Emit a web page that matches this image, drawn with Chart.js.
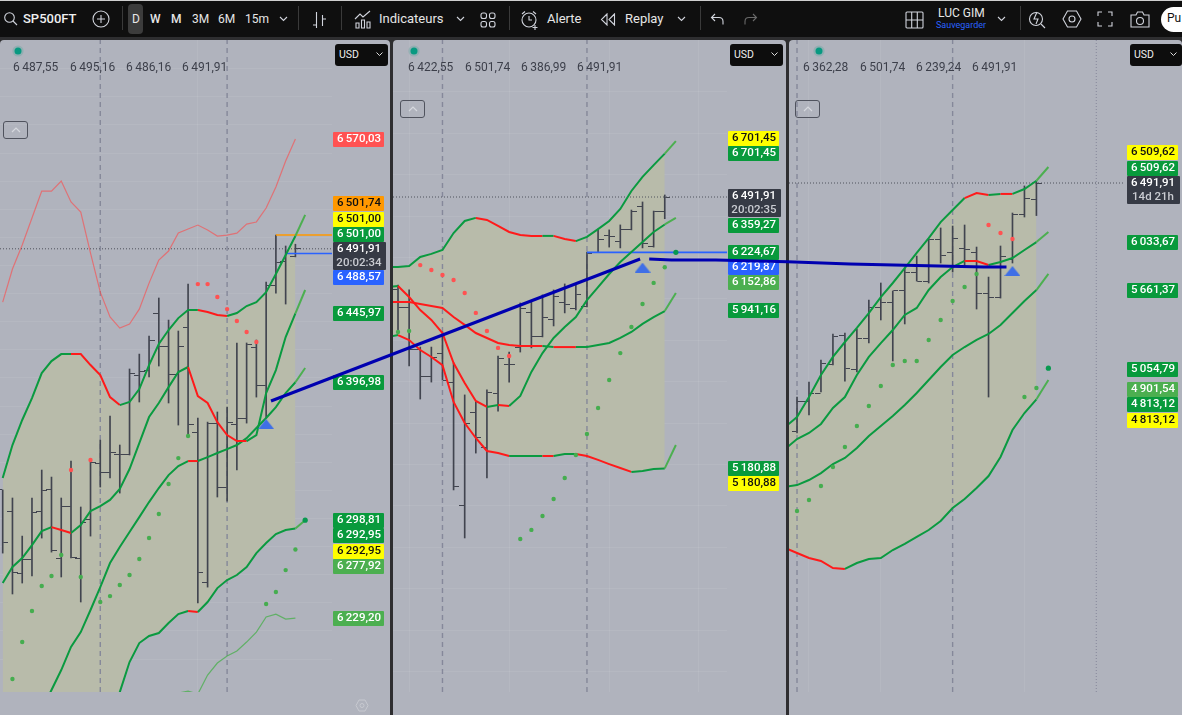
<!DOCTYPE html>
<html lang="fr"><head><meta charset="utf-8"><title>SP500FT</title>
<script src="https://cdn.jsdelivr.net/npm/chart.js@4/dist/chart.umd.min.js"></script>
<style>
html,body{margin:0;padding:0;width:1182px;height:715px;overflow:hidden;background:#2e2e30;font-family:Roboto,"Open Sans",sans-serif}
.abs{position:absolute}
#bar{left:0;top:0;width:1182px;height:37px;background:#0f0f0f;color:#e6e6e6;border-top:1px solid #cfcfcf;box-sizing:border-box}
#bar span{position:absolute;top:10px;font-size:13px;white-space:nowrap;line-height:16px}
#bar svg{position:absolute;fill:none;stroke:#d1d4dc;stroke-width:1.1}
#bar i{position:absolute;top:5px;width:1px;height:24px;background:#3a3a3a}
.panel{position:absolute;top:40px;height:675px;background:#b0b3bd;border-radius:4px 4px 0 0;overflow:hidden}
canvas{position:absolute;left:0;top:0}
.hv{position:absolute;top:60px;font-size:12px;color:#3c3f4a;white-space:nowrap;line-height:14px;z-index:3}
.dot{position:absolute;top:46px;width:10px;height:10px;border-radius:50%;background:#089981;box-shadow:0 0 0 3px rgba(8,153,129,.18);z-index:3;transform:scale(.7)}
.usd{position:absolute;top:44px;width:53px;height:22px;background:#0d0d0d;border-radius:3px;color:#eee;font-size:10.5px;line-height:21px;padding-left:4px;box-sizing:border-box;z-index:3}
.usd svg{position:absolute;right:5px;top:8px;fill:none;stroke:#ddd;stroke-width:1}
.up{position:absolute;width:25px;height:18px;border:1px solid #50535e;border-radius:3px;box-sizing:border-box;z-index:3}
.up svg{position:absolute;left:7px;top:5px;fill:none;stroke:#d6d8de;stroke-width:1.2}
</style></head><body>
<div id="bar" class="abs">
<svg style="left:3px;top:10px" width="15" height="15" viewBox="0 0 15 15"><circle cx="6.5" cy="6.5" r="4.8"/><path d="M10 10l4 4"/></svg>
<span style="left:23px;font-weight:500;color:#f0f0f0">SP500FT</span>
<svg style="left:92px;top:9px" width="18" height="18" viewBox="0 0 18 18"><circle cx="9" cy="9" r="8"/><path d="M9 5v8M5 9h8"/></svg>
<i style="left:122px"></i>
<div class="abs" style="left:128px;top:3px;width:15px;height:30px;background:#3c3c3c;border-radius:4px"></div>
<span style="left:132px;font-size:12px">D</span><span style="left:150px;font-size:12px;font-weight:500">W</span><span style="left:171px;font-size:12px;font-weight:500">M</span><span style="left:192px;font-size:12px">3M</span><span style="left:218px;font-size:12px">6M</span><span style="left:245px;font-size:12px">15m</span>
<svg style="left:279px;top:15px" width="9" height="6" viewBox="0 0 9 6"><path d="M1 1l3.500 3.500L8 1"/></svg>
<i style="left:298px"></i>
<svg style="left:312px;top:10px" width="15" height="18" viewBox="0 0 15 18"><path d="M4.500 1v16M1 14h3.500M10.500 4v11M10.500 8h3.500"/></svg>
<i style="left:341px"></i>
<svg style="left:354px;top:9px" width="18" height="19" viewBox="0 0 18 19"><path d="M1 9l5-5 3 3 7-6M2 18v-5h3v5zM7.500 18v-8h3v8zM13 18v-6h3v6z"/></svg>
<span style="left:379px">Indicateurs</span>
<svg style="left:456px;top:15px" width="9" height="6" viewBox="0 0 9 6"><path d="M1 1l3.500 3.500L8 1"/></svg>
<svg style="left:480px;top:11px" width="16" height="16" viewBox="0 0 16 16"><rect x="1" y="1" width="5.500" height="5.500" rx="2"/><rect x="9.500" y="1" width="5.500" height="5.500" rx="2"/><rect x="1" y="9.500" width="5.500" height="5.500" rx="2"/><rect x="9.500" y="9.500" width="5.500" height="5.500" rx="2"/></svg>
<i style="left:509px"></i>
<svg style="left:520px;top:9px" width="20" height="20" viewBox="0 0 20 20"><circle cx="9" cy="10" r="7"/><path d="M9 6v4h3M2 4l3-2.500M13 1.500L16 4M15 15v5M12.500 17.500h5"/></svg>
<span style="left:547px">Alerte</span>
<svg style="left:600px;top:12px" width="16" height="13" viewBox="0 0 16 13"><path d="M7 1L1.500 6.500 7 12zM14.500 1L9 6.500l5.500 5.500z"/></svg>
<span style="left:625px">Replay</span>
<svg style="left:677px;top:15px" width="9" height="6" viewBox="0 0 9 6"><path d="M1 1l3.500 3.500L8 1"/></svg>
<i style="left:700px"></i>
<svg style="left:710px;top:12px" width="14" height="13" viewBox="0 0 14 13"><path d="M5 1L1.500 4.500 5 8M1.500 4.500H9q4 0 4 4v3"/></svg>
<svg style="left:744px;top:12px;stroke:#6a6a6a" width="14" height="13" viewBox="0 0 14 13"><path d="M9 1l3.500 3.500L9 8M12.500 4.500H5q-4 0-4 4v3"/></svg>
<svg style="left:905px;top:10px" width="19" height="18" viewBox="0 0 19 18"><rect x="1" y="1" width="17" height="16" rx="1"/><path d="M6.700 1v16M12.300 1v16M1 9h17"/></svg>
<span style="left:938px;top:4px;font-size:12px">LUC GIM</span>
<span style="left:936px;top:18px;font-size:9px;line-height:12px;color:#2962ff">Sauvegarder</span>
<svg style="left:997px;top:15px" width="9" height="6" viewBox="0 0 9 6"><path d="M1 1l3.500 3.500L8 1"/></svg>
<i style="left:1020px"></i>
<svg style="left:1028px;top:8px" width="18" height="20" viewBox="0 0 18 20"><circle cx="8" cy="10" r="6.500"/><path d="M13 15l4 4M9 3L6 10h4l-2 5"/></svg>
<svg style="left:1062px;top:9px" width="20" height="18" viewBox="0 0 20 18"><path d="M5.500 1h9l4.500 8-4.500 8h-9L1 9z"/><circle cx="10" cy="9" r="3"/></svg>
<svg style="left:1097px;top:10px" width="16" height="16" viewBox="0 0 16 16"><path d="M1 5V1h4M11 1h4v4M15 11v4h-4M5 15H1v-4"/></svg>
<svg style="left:1130px;top:10px" width="20" height="17" viewBox="0 0 20 17"><path d="M1 4h5l1.500-3h5L14 4h5v12H1z"/><circle cx="10" cy="10" r="3.500"/></svg>
<div class="abs" style="left:1161px;top:6px;width:40px;height:25px;background:#fff;border-radius:13px"></div>
<span style="left:1167px;top:9px;color:#111;font-size:12px">Pu</span>
</div>

<div class="panel" style="left:0;width:390px"><canvas id="c1" width="390" height="652"></canvas></div>
<div class="panel" style="left:393px;width:393px"><canvas id="c2" width="393" height="652"></canvas></div>
<div class="panel" style="left:789px;width:393px"><canvas id="c3" width="393" height="652"></canvas></div>

<div class="dot" style="left:13px"></div><div class="dot" style="left:409px"></div><div class="dot" style="left:814px"></div>
<div class="hv" style="left:13px">6&thinsp;487,55</div><div class="hv" style="left:70px">6&thinsp;495,16</div><div class="hv" style="left:126px">6&thinsp;486,16</div><div class="hv" style="left:182px">6&thinsp;491,91</div>
<div class="hv" style="left:408px">6&thinsp;422,55</div><div class="hv" style="left:465px">6&thinsp;501,74</div><div class="hv" style="left:521px">6&thinsp;386,99</div><div class="hv" style="left:577px">6&thinsp;491,91</div>
<div class="hv" style="left:803px">6&thinsp;362,28</div><div class="hv" style="left:860px">6&thinsp;501,74</div><div class="hv" style="left:916px">6&thinsp;239,24</div><div class="hv" style="left:972px">6&thinsp;491,91</div>
<div class="usd" style="left:335px">USD<svg width="7" height="5" viewBox="0 0 7 5"><path d="M.5.5l3 3 3-3"/></svg></div>
<div class="usd" style="left:730px">USD<svg width="7" height="5" viewBox="0 0 7 5"><path d="M.5.5l3 3 3-3"/></svg></div>
<div class="usd" style="left:1130px;width:52px">USD<svg width="7" height="5" viewBox="0 0 7 5"><path d="M.5.5l3 3 3-3"/></svg></div>
<div class="up" style="left:3px;top:121px"><svg width="10" height="6" viewBox="0 0 10 6"><path d="M1 5l4-4 4 4"/></svg></div>
<div class="up" style="left:400px;top:100px"><svg width="10" height="6" viewBox="0 0 10 6"><path d="M1 5l4-4 4 4"/></svg></div>
<div class="up" style="left:795px;top:100px"><svg width="10" height="6" viewBox="0 0 10 6"><path d="M1 5l4-4 4 4"/></svg></div>
<svg class="abs" style="left:355px;top:699px;fill:none;stroke:#c7c9d0;stroke-width:1" width="14" height="13" viewBox="0 0 14 13"><path d="M4 1h6l3 5.500-3 5.500H4L1 6.500z"/><circle cx="7" cy="6.500" r="2"/></svg>
<canvas id="over" width="1182" height="715" style="position:absolute;left:0;top:0;pointer-events:none;z-index:5"></canvas>

<script>
/* ---------- Panel 1 : SP500FT, bars indexed from 0 ---------- */
const p1Open=[6320.3,6305.3,6261.2,6270.5,6305.3,6320.3,6271.2,6308.2,6271.9,6299.6,6339.5,6333.0,6345.9,6345.9,6402.1,6405.6,6446.2,6422.4,6402.8,6436.2,6361.5,6254.8,6367.9,6322.4,6367.2,6371.5,6421.7,6395.0,6466.1,6483.2,6486.7];
const p1High=[6320.3,6314.6,6287.5,6314.6,6334.5,6329.5,6314.6,6340.9,6308.2,6340.9,6355.8,6372.9,6352.3,6406.4,6417.0,6429.8,6456.9,6441.2,6433.4,6466.8,6371.5,6368.6,6375.8,6379.3,6424.9,6424.9,6427.0,6468.3,6501.74,6493.9,6495.16];
const p1Low=[6275.4,6246.3,6254.1,6259.1,6286.1,6276.1,6258.4,6271.9,6240.6,6287.5,6322.4,6328.8,6318.1,6345.2,6382.9,6400.7,6408.5,6382.2,6366.5,6358.0,6239.9,6251.2,6315.3,6312.4,6334.5,6367.9,6386.4,6371.5,6460.4,6452.6,6486.16];
const p1Close=[6282.6,6261.9,6270.5,6304.6,6319.6,6277.6,6308.2,6272.6,6297.5,6340.2,6333.0,6347.3,6345.9,6403.5,6404.9,6427.0,6422.4,6402.8,6422.4,6367.2,6261.9,6367.9,6322.4,6368.6,6371.5,6423.5,6395.0,6466.1,6482.5,6488.9,6491.91];
const p1BandA=[6328.8,6352.3,6370.1,6385.7,6403.5,6412.0,6417.0,6417.0,6417.0,6409.2,6402.1,6386.4,6380.7,6382.9,6392.1,6409.2,6424.2,6434.1,6442.6,6448.3,6448.3,6446.9,6444.8,6444.1,6446.2,6451.2,6454.0,6461.1,6474.0,6487.5,6501.0,6516.0];
const p1BandB=[6254.1,6265.5,6271.9,6281.1,6291.0,6293.9,6291.8,6289.7,6295.4,6305.3,6308.9,6313.2,6321.0,6335.2,6353.7,6372.2,6382.2,6393.5,6404.2,6407.8,6387.1,6382.2,6368.6,6359.4,6355.1,6355.1,6359.4,6389.3,6405.6,6429.1,6445.97,6462.6];
const p1BandC=[6106.8,6121.1,6135.3,6149.5,6163.7,6178.0,6192.2,6208.6,6219.2,6234.9,6251.2,6268.3,6279.7,6290.4,6301.0,6311.7,6321.7,6330.9,6337.3,6340.9,6340.9,6343.7,6346.6,6349.4,6352.3,6357.2,6364.4,6371.5,6379.3,6389.3,6396.98,6407.1];
const p1BandD=[5957.4,5975.2,5993.0,6010.8,6028.6,6046.3,6064.1,6081.9,6099.7,6117.5,6135.3,6153.1,6176.5,6197.9,6211.4,6216.4,6218.5,6225.6,6232.0,6234.2,6233.5,6240.6,6250.5,6256.2,6259.8,6265.5,6275.4,6282.6,6288.9,6291.8,6292.95,6298.81];
const p1ThinRed=[6454.0,6477.5,6494.6,6513.8,6533.0,6533.0,6540.1,6525.2,6518.1,6488.9,6461.1,6443.4,6435.5,6438.4,6449.0,6467.5,6483.9,6490.3,6503.1,6506.0,6508.8,6505.3,6501.0,6501.7,6503.1,6509.5,6511.0,6520.9,6535.9,6554.4,6570.03];
const p1ThinGreen=[null,null,null,null,null,null,null,null,null,null,null,null,null,null,null,null,null,6170.9,6175.8,6177.2,6175.1,6188.6,6197.2,6202.2,6205.7,6212.1,6219.2,6229.9,6232.0,6228.5,6229.20];
const p1DotsGreen=[null,6185.8,6212.1,6234.2,6252.0,6259.1,6274.0,null,6258.4,null,6240.6,6244.8,6252.7,6259.8,6271.2,6286.1,6303.2,6324.6,6343.0,6358.7,null,null,null,null,null,null,null,6239.2,6247.7,6263.3,6277.92];
const p1DotsRed=[null,null,null,null,null,null,null,6334.5,null,6341.6,null,null,null,null,null,null,null,null,null,null,6466.8,6466.8,6457.6,6449.0,6440.5,6432.7,6425.6];
const p1RedA=[7,8,9,10,11,20,21,22], p1RedB=[5,6,19,20,21,22,23,24], p1RedC=[19], p1RedD=[19];
const p1Signal=[27,6367.2], p1LastDot=[31,6298.81];
const p1VLines=[10,23], p1GridX=[20];
const p1Levels=[[28,6501.74,'#ff9800'],[29,6488.57,'#2962ff']];
const p1PillText=['6 570,03','6 501,74','6 501,00','6 501,00','6 491,91\n20:02:34','6 488,57','6 445,97','6 396,98','6 298,81','6 292,95','6 292,95','6 277,92','6 229,20'];
const p1PillBg=['#ff5252','#ff9800','#ffff00','#089a3c','#363a45','#2962ff','#089a3c','#089a3c','#089a3c','#089a3c','#ffff00','#4caf50','#4caf50'];
const p1PillTop=[132,196,212,227,242,270,306,375,513,528,544,559,611];

/* ---------- Panel 2 : first value sits just left of the visible area ---------- */
const p2Open=[6043,5956,5753,5627,5738,5594,5004,5453,5284,5545,5685,5763,5932,5816,5898,5980,5951,5965,6226,6308,6275,6333,6444,6255,6424];
const p2High=[6067,6043,5767,5767,5840,5690,5536,5502,5560,5724,5743,5980,5985,6019,6043,6072,6067,6226,6337,6333,6357,6429,6468,6424,6501.74];
const p2Low=[5835,5676,5516,5598,5608,5077,4845,5255,5135,5458,5598,5743,5763,5816,5869,5932,5946,5961,6226,6250,6246,6333,6246,6250,6386.99];
const p2Close=[5956,5753,5627,5719,5608,5096,5396,5328,5550,5714,5685,5951,5816,5912,6009,5975,6023,6221,6289,6299,6333,6424,6265,6424,6491.91];
const p2BandA=[6154,6154,6159,6202,6217,6236,6318,6376,6391,6381,6352,6323,6308,6304,6304,6304,6289,6279,6299,6337,6376,6434,6521,6589,6646,6701.45,6762];
const p2BandB=[5985,5985,5985,5975,5965,5956,5912,5874,5835,5811,5787,5777,5772,5772,5772,5767,5767,5767,5767,5777,5787,5811,5840,5879,5912,5941.16,6028];
const p2BandC=[6057,6062,6009,5946,5898,5835,5690,5594,5507,5478,5487,5482,5531,5647,5738,5811,5864,5912,5994,6057,6120,6178,6226,6275,6323,6359.27,6391];
const p2BandD=[5816,5825,5801,5753,5719,5680,5502,5400,5328,5265,5255,5241,5241,5241,5241,5241,5251,5251,5241,5222,5202,5183,5164,5169,5178,5180.88,5294];
const p2DotsGreen=[null,5840,5845,null,null,null,null,null,null,null,null,null,4840,4884,4951,5033,5135,5246,5347,5473,5608,5738,5864,5975,6077,6152.86];
const p2DotsRed=[null,null,null,6163,6139,6115,6091,6028,5932,5845,5763,5724];
const p2RedA=[8,9,10,11,12,13,15,16], p2RedB=[0,1,2,3,4,5,6,7,8,9,10,11,12,13,15,16], p2RedC=[1,2,3,4,5,6,7,8,10], p2RedD=[1,2,3,4,5,6,7,8,9,10,14,17,18,19,20,21];
const p2Signal=[23,6151], p2LastDot=[26,6224.67];
const p2VLines=[5,18], p2GridX=[2,11,20,28];
const p2Levels=[[18,6224.67,'#2962ff']];
const p2PillText=['6 701,45','6 701,45','6 491,91\n20:02:35','6 359,27','6 224,67','6 219,87','6 152,86','5 941,16','5 180,88','5 180,88'];
const p2PillBg=['#ffff00','#089a3c','#363a45','#089a3c','#089a3c','#2962ff','#4caf50','#089a3c','#089a3c','#ffff00'];
const p2PillTop=[131,146,189,218,245,260,275,303,461,476];

/* ---------- Panel 3 ---------- */
const p3Open=[4560,4800,4862,5087,5305,5041,5289,5522,5568,5654,5801,5731,6057,5949,5980,5956,5638,5607,5902,6244,6360];
const p3High=[4831,4948,5118,5320,5328,5359,5584,5716,5654,5840,5925,6057,6143,6158,6166,5995,5762,6003,6259,6469,6501.74];
const p3Low=[4552,4692,4870,5080,4955,5025,5250,5429,5111,5398,5731,5716,5871,5801,5840,5514,4831,5599,5871,6228,6239.24];
const p3Close=[4800,4862,5095,5297,5049,5289,5522,5561,5654,5801,5731,6057,5933,6065,5972,5638,5607,5918,6244,6368,6491.91];
const p3BandA=[4598,4676,4831,5002,5142,5258,5367,5483,5607,5716,5832,5949,6065,6189,6282,6375,6414,6399,6407,6407,6445,6509.62,6616];
const p3BandB=[4428,4505,4552,4622,4746,4831,5002,5142,5250,5351,5468,5522,5662,5762,5840,5887,5887,5856,5879,5910,5972,6033.67,6112];
const p3BandC=[4133,4148,4187,4241,4311,4358,4436,4529,4606,4684,4769,4862,4963,5064,5157,5219,5274,5320,5390,5483,5576,5661.37,5786];
const p3BandD=[3659,3621,3582,3559,3504,3497,3543,3574,3582,3644,3691,3745,3799,3869,3970,4040,4125,4218,4366,4575,4707,4813.12,4963];
const p3DotsGreen=[null,3947,4032,4141,4288,4443,4606,4761,4917,5080,5111,5111,5274,5429,5576,5685,5786,null,null,null,4831,4901.54];
const p3DotsRed=[null,null,null,null,null,null,null,null,null,null,null,null,null,null,null,null,null,6166,6104,6057];
const p3RedA=[15,16,18], p3RedB=[15,16], p3RedC=[], p3RedD=[0,1,2,3,4];
const p3Signal=[19,5809], p3LastDot=[22,5054.79];
const p3VLines=[1,14], p3DottedV=[26], p3GridX=[2,8,20];
const p3Levels=[];
const p3PillText=['6 509,62','6 509,62','6 491,91\n14d 21h','6 033,67','5 661,37','5 054,79','4 901,54','4 813,12','4 813,12'];
const p3PillBg=['#ffff00','#089a3c','#363a45','#089a3c','#089a3c','#089a3c','#4caf50','#089a3c','#ffff00'];
const p3PillTop=[145,161,176,235,283,362,382,397,413];

const lastPrice=6491.91;
/* hand-drawn blue trend lines: [panel, bar position, price] */
const trendOne=[[0,27.5,6383.6],[1,22.78,6192.4]];
const trendTwo=[[1,23.6,6192],[1,25.6,6188],[1,29.6,6188],[2,0.2,5880],[2,5.43,5863],[2,9.1,5856],[2,12.87,5848],[2,16.6,5840],[2,18.5,5840]];

/* ---------- drawing ---------- */
const GREEN='#0a9a40',LIGHT='#4caf50',RED='#ff1a1a',FILL='rgb(184,187,170)',BARCOL='#41444f';
const pts=a=>a.map((v,i)=>({x:i,y:v}));
const ptsFrom=(a,s)=>a.map((v,i)=>({x:i+s,y:v}));
function tickImg(side,len){const c=document.createElement('canvas');c.width=len*2+1;c.height=1;const g=c.getContext('2d');g.fillStyle=BARCOL;g.fillRect(side<0?0:len+1,0,len,1);return c;}
const triImg=(()=>{const c=document.createElement('canvas');c.width=16;c.height=10;const g=c.getContext('2d');g.fillStyle='#3f6fe6';g.beginPath();g.moveTo(8,0);g.lineTo(16,10);g.lineTo(0,10);g.closePath();g.fill();return c;})();
const leftTick=tickImg(-1,5),rightTick=tickImg(1,5);

const pillPlugin={id:'pills',afterDraw(ch,a,o){
  const g=ch.ctx,x=ch.chartArea.right+o.gap,top=ch.canvas.getBoundingClientRect().top;
  g.save();g.textAlign='center';g.textBaseline='middle';
  o.text.forEach((t,i)=>{const lines=t.split('\n'),two=lines.length>1,h=two?28:15,y=o.tops[i]-top;
    g.fillStyle=o.bg[i];g.beginPath();g.roundRect(x,y,two?53:51,h,1);g.fill();
    const dark=o.bg[i]==='#ffff00'||o.bg[i]==='#ff9800';
    lines.forEach((s,k)=>{g.font='500 11.5px Roboto';g.fillStyle=dark?'#111':(k?'#c9cbd1':'#fff');g.fillText(s.replace(/^(\d) (\d)/,'$1\u2009$2'),x+26,y+7.5+k*13.5);});
  });g.restore();}};

function line(data,red,last,width){return {type:'line',data,borderColor:GREEN,borderWidth:width||2,pointRadius:0,tension:0,fill:false,order:2,
  segment:{borderColor:c=>red.includes(c.p0DataIndex)?RED:(c.p0DataIndex>=last?LIGHT:GREEN)}};}
function flat(x0,x1,v,col,w,dash){return {type:'line',data:[{x:x0,y:v},{x:x1,y:v}],borderColor:col,borderWidth:w,borderDash:dash||[],pointRadius:0,fill:false,order:3};}
function vert(x,lo,hi,col,w,dash){return {type:'line',data:[{x,y:lo},{x,y:hi}],borderColor:col,borderWidth:w,borderDash:dash,pointRadius:0,fill:false,order:6};}

function panel(id,cfg){
  const s=cfg.start,ds=[];
  const bars=cfg.high.map((h,i)=>({x:i+s,y:[cfg.low[i],h]}));
  const lastBarIdx=cfg.a.length-2;
  ds.push({type:'line',data:pts(cfg.a.slice(0,lastBarIdx+1)),borderWidth:0,pointRadius:0,fill:1,backgroundColor:FILL,order:9});
  ds.push({type:'line',data:pts(cfg.d.slice(0,lastBarIdx+1)),borderWidth:0,pointRadius:0,fill:false,order:9});
  cfg.v.forEach(x=>ds.push(vert(x,cfg.min,cfg.max,'#85889a',1.4,[5,4])));
  (cfg.vDot||[]).forEach(x=>ds.push(vert(x,cfg.min,cfg.max,'#85889a',1,[1,2])));
  ds.push({type:'bar',data:bars,backgroundColor:BARCOL,barThickness:1,grouped:false,order:5});
  ds.push({type:'line',data:ptsFrom(cfg.open,s),showLine:false,pointStyle:leftTick,pointRadius:5,order:4});
  ds.push({type:'line',data:ptsFrom(cfg.close,s),showLine:false,pointStyle:rightTick,pointRadius:5,order:4});
  ds.push(flat(cfg.xmin,cfg.xmax,lastPrice,'#4f525c',1,[1,2]));
  cfg.levels.forEach(l=>ds.push(flat(l[0],cfg.xmax,l[1],l[2],1.6)));
  (cfg.extra||[]).forEach(e=>ds.push(e));
  ds.push(line(pts(cfg.a),cfg.ra,lastBarIdx));
  ds.push(line(pts(cfg.b),cfg.rb,lastBarIdx));
  ds.push(line(pts(cfg.c),cfg.rc,lastBarIdx));
  ds.push(line(pts(cfg.d),cfg.rd,lastBarIdx));
  ds.push({type:'line',data:pts(cfg.green),showLine:false,pointRadius:2.2,pointBorderWidth:0,pointBackgroundColor:'#45ad4f',order:1});
  ds.push({type:'line',data:pts(cfg.redDots),showLine:false,pointRadius:2.2,pointBorderWidth:0,pointBackgroundColor:'#ff5252',order:1});
  ds.push({type:'line',data:[{x:cfg.lastDot[0],y:cfg.lastDot[1]}],showLine:false,pointRadius:2.6,pointBorderWidth:0,pointBackgroundColor:'#089950',order:1});
  ds.push({type:'line',data:[{x:cfg.signal[0],y:cfg.signal[1]}],showLine:false,pointStyle:triImg,pointRadius:8,order:1});
  return new Chart(document.getElementById(id),{type:'line',data:{datasets:ds},plugins:[pillPlugin],options:{
    responsive:false,animation:false,events:[],spanGaps:false,
    layout:{autoPadding:false,padding:{left:0,top:0,bottom:0,right:cfg.pad}},
    plugins:{legend:{display:false},tooltip:{enabled:false},pills:{text:cfg.pt,bg:cfg.pb,tops:cfg.py,gap:cfg.gap}},
    scales:{
      x:{type:'linear',display:true,offset:false,min:cfg.xmin,max:cfg.xmax,ticks:{display:false},border:{display:false},
         grid:{drawTicks:false,offset:false,color:'rgba(255,255,255,.07)'},afterBuildTicks:ax=>{ax.ticks=cfg.gx.map(v=>({value:v}));},afterFit:ax=>{ax.height=0;ax.paddingLeft=ax.paddingRight=0;}},
      y:{type:'linear',display:true,min:cfg.min,max:cfg.max,ticks:{display:false,stepSize:cfg.step},border:{display:false},
         grid:{drawTicks:false,color:'rgba(255,255,255,.07)'},afterBuildTicks:ax=>{ax.ticks=ax.ticks.filter(t=>Math.abs(t.value%cfg.step)<1e-6);},afterFit:ax=>{ax.width=0;ax.paddingTop=ax.paddingBottom=0;}}
    }}});
}
const c1=panel('c1',{start:0,high:p1High,low:p1Low,open:p1Open,close:p1Close,a:p1BandA,b:p1BandB,c:p1BandC,d:p1BandD,ra:p1RedA,rb:p1RedB,rc:p1RedC,rd:p1RedD,
  green:p1DotsGreen,redDots:p1DotsRed,lastDot:p1LastDot,signal:p1Signal,v:p1VLines,gx:p1GridX,levels:p1Levels,
  xmin:-0.277,xmax:33.75,min:6176.57,max:6640.47,step:20,pad:58,gap:1,pt:p1PillText,pb:p1PillBg,py:p1PillTop,
  extra:[{type:'line',data:pts(p1ThinRed),borderColor:'rgba(255,70,70,.6)',borderWidth:1.2,pointRadius:0,tension:0,fill:false,order:3},
         {type:'line',data:pts(p1ThinGreen),borderColor:'rgba(76,175,80,.8)',borderWidth:1.2,pointRadius:0,tension:0,fill:false,order:3}]});
const c2=panel('c2',{start:1,high:p2High,low:p2Low,open:p2Open,close:p2Close,a:p2BandA,b:p2BandB,c:p2BandC,d:p2BandD,ra:p2RedA,rb:p2RedB,rc:p2RedC,rd:p2RedD,
  green:p2DotsGreen,redDots:p2DotsRed,lastDot:p2LastDot,signal:p2Signal,v:p2VLines,gx:p2GridX,levels:p2Levels,
  xmin:0.549,xmax:30.6,min:4101.06,max:7250.22,step:200,pad:59,gap:1,pt:p2PillText,pb:p2PillBg,py:p2PillTop});
const c3=panel('c3',{start:1,high:p3High,low:p3Low,open:p3Open,close:p3Close,a:p3BandA,b:p3BandB,c:p3BandC,d:p3BandD,ra:p3RedA,rb:p3RedB,rc:p3RedC,rd:p3RedD,
  green:p3DotsGreen,redDots:p3DotsRed,lastDot:p3LastDot,signal:p3Signal,v:p3VLines,vDot:p3DottedV,gx:p3GridX,levels:p3Levels,
  xmin:0.33,xmax:28.4,min:2542.07,max:7601.59,step:250,pad:57,gap:2,pt:p3PillText,pb:p3PillBg,py:p3PillTop});

/* overlay: the two blue trend lines cross the panels, placed through each panel's own scales */
const charts=[c1,c2,c3];
function toPage(a){const ch=charts[a[0]],r=ch.canvas.getBoundingClientRect();
  return {x:r.left+ch.scales.x.getPixelForValue(a[1]),y:r.top+ch.scales.y.getPixelForValue(a[2])};}
new Chart(document.getElementById('over'),{type:'line',data:{datasets:[trendOne,trendTwo].map(t=>({data:t.map(toPage),borderColor:'#0000b0',borderWidth:3,pointRadius:0,tension:0,fill:false}))},
  options:{responsive:false,animation:false,events:[],layout:{autoPadding:false,padding:0},plugins:{legend:{display:false},tooltip:{enabled:false}},
  scales:{x:{type:'linear',display:false,min:0,max:1182},y:{type:'linear',display:false,min:0,max:715,reverse:true}}}});
</script>
</body></html>
